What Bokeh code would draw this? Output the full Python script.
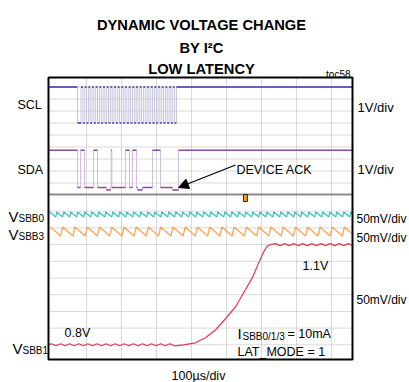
import numpy as np
from bokeh.plotting import figure
from bokeh.models import Range1d, Label, Arrow, NormalHead
from bokeh.embed import file_html
from bokeh.resources import INLINE

# ---------------- data (time in µs, 100 µs/div) ----------------
T_LEFT, T_RIGHT = -8.6, 860.0

# SCL (1 V/div)
scl_high_v = 3.0
scl_fall_start = 74.3
scl_rise_t = [84.5, 95.0, 105.5, 115.9, 126.4, 136.9, 147.4, 157.8, 168.3,
              178.8, 189.3, 199.8, 210.2, 220.7, 231.2, 241.7, 252.1, 262.6,
              273.1, 283.6, 294.1, 304.5, 315.0, 325.5, 336.0, 346.4, 356.9]
scl_high_us = 5.2

# SDA (1 V/div): edge times and level after each edge
sda_t = [T_LEFT, 74.3, 82.9, 94.3, 120.0, 131.4, 157.0, 169.0, 170.5, 172.5,
         211.4, 222.9, 231.4, 242.9, 245.7, 260.0, 288.6, 311.4, 345.7, 362.9, T_RIGHT]
sda_v = [3.1, 0.0, 3.1, 0.0, 3.1, 0.0, -0.2, 0.0, 3.1, 0.0,
         3.1, 0.0, 3.1, 0.0, -0.2, 0.0, 3.1, 0.0, -0.2, 3.1, 3.1]

# VSBB0 ripple (50 mV/div, AC)
vsbb0_peak_t = [-5, 15, 35, 55, 75, 95, 115, 135, 155, 175, 195, 215, 235, 255,
                275, 295, 315, 335, 355, 375, 395, 415, 435, 455, 475, 495, 515,
                535, 555, 575, 595, 615, 635, 655, 675, 695, 715, 735, 755, 775,
                795, 815, 835, 855, 875]
vsbb0_ripple_mv = 15.0
vsbb0_rise_us = 3.0

# VSBB3 ripple (50 mV/div, AC)
vsbb3_peak_t = [-3, 32, 67, 102, 137, 172, 207, 242, 277, 312, 347, 382, 417,
                452, 487, 522, 557, 592, 627, 662, 697, 732, 767, 802, 837, 872]
vsbb3_ripple_mv = 27.0
vsbb3_rise_us = 6.0

# VSBB1 (50 mV/div): 0.8 V -> 1.1 V
vsbb1_start_v = 0.8
vsbb1_end_v = 1.1
vsbb1_ramp_t = [377, 411, 440, 469, 497, 526, 549, 574, 591, 606, 617, 626]
vsbb1_ramp_v = [0.800, 0.806, 0.821, 0.845, 0.878, 0.914, 0.956, 1.001, 1.043,
                1.078, 1.096, 1.100]
vsbb1_low_peak_t = [0, 26, 52, 78, 104, 130, 156, 182, 208, 234, 260, 286, 312, 338]
vsbb1_high_peak_t = [640, 666, 692, 718, 744, 770, 796, 822, 848]
vsbb1_ripple_mv = 6.0
vsbb1_half_period_us = 13.0

trigger_t = 554.0

# ---------------- screen mapping (y range in pixel rows) ----------------
SCOPE_TOP, SCOPE_BOTTOM = 77.0, 359.0
SCL_ZERO, SDA_ZERO, PX_PER_V = 122.5, 187.0, 12.0
VSBB0_C, VSBB3_C, VSBB1_08 = 214.0, 231.0, 344.3
PX_PER_DIV_LOW = 16.7
W, H = 409, 382


def y_logic(zero, v):
    return [zero - x * PX_PER_V for x in v]


def y_ac(center, mv):
    return [center - m / 50.0 * PX_PER_DIV_LOW for m in mv]


def y_sbb1(v):
    return [VSBB1_08 - (x - 0.8) / 0.05 * PX_PER_DIV_LOW for x in v]


def tx(px):
    return (px - 51.0) * 100.0 / 35.0


def clip(xs, ys, a=T_LEFT, b=T_RIGHT):
    xs = np.asarray(xs, float); ys = np.asarray(ys, float)
    ox, oy = [], []
    for i in range(len(xs)):
        if a <= xs[i] <= b:
            if i > 0 and xs[i - 1] < a:
                f = (a - xs[i - 1]) / (xs[i] - xs[i - 1])
                ox.append(a); oy.append(ys[i - 1] + f * (ys[i] - ys[i - 1]))
            ox.append(xs[i]); oy.append(ys[i])
        elif xs[i] > b and i > 0 and xs[i - 1] <= b:
            f = (b - xs[i - 1]) / (xs[i] - xs[i - 1])
            ox.append(b); oy.append(ys[i - 1] + f * (ys[i] - ys[i - 1]))
    return ox, oy


p = figure(width=W, height=H, x_range=Range1d(tx(0), tx(W)),
           y_range=Range1d(H, 0), x_axis_type=None, y_axis_type=None,
           toolbar_location=None, output_backend="svg",
           min_border=0, outline_line_color=None,
           background_fill_color="white", border_fill_color="white")
p.grid.visible = False

# grid
GRID = "#b4b4b4"
vg = [100, 200, 300, 400, 500, 600, 700, 800]
p.segment(vg, [SCOPE_TOP] * len(vg), vg, [SCOPE_BOTTOM] * len(vg),
          line_color=GRID, line_dash="1 1", line_width=1)
hg = [86.5, 98.5, 110.5, 122.5, 134.5, 146.5, 158.5, 170.5, 182.5,
      210.7, 227.4, 244.1, 260.8, 277.5, 294.2, 310.9, 327.6, 344.3]
p.segment([T_LEFT] * len(hg), hg, [T_RIGHT] * len(hg), hg,
          line_color=GRID, line_dash="1 1", line_width=1)
p.segment([T_LEFT], [194], [T_RIGHT], [194], line_color="#8c8c8c", line_width=2)

# SCL
e_t = [T_LEFT, scl_fall_start]
e_v = [scl_high_v, 0.0]
for i, r in enumerate(scl_rise_t):
    e_t.append(r); e_v.append(scl_high_v)
    if i < len(scl_rise_t) - 1:
        e_t.append(r + scl_high_us); e_v.append(0.0)
e_t.append(T_RIGHT); e_v.append(scl_high_v)
ys = y_logic(SCL_ZERO, e_v)
p.step(e_t, ys, mode="after", line_color="#c6c6dc", line_width=1)
p.segment(e_t[:-1], ys[:-1], e_t[1:], ys[:-1], line_color="#3c3ca4", line_width=1.5)

# SDA
ys = y_logic(SDA_ZERO, sda_v)
p.step(sda_t, ys, mode="after", line_color="#d4bedf", line_width=1)
p.segment(sda_t[:-1], ys[:-1], sda_t[1:], ys[:-1], line_color="#8a4caa", line_width=1.5)


def sawtooth(peaks, amp, rise):
    xs, vs = [], []
    for k in range(len(peaks) - 1):
        xs += [peaks[k], peaks[k + 1] - rise]
        vs += [amp / 2, -amp / 2]
    xs.append(peaks[-1]); vs.append(amp / 2)
    return xs, vs


xs, vs = sawtooth(vsbb0_peak_t, vsbb0_ripple_mv, vsbb0_rise_us)
cx, cy = clip(xs, y_ac(VSBB0_C, vs))
p.line(cx, cy, line_color="#3cc4c4", line_width=1.2)
xs, vs = sawtooth(vsbb3_peak_t, vsbb3_ripple_mv, vsbb3_rise_us)
cx, cy = clip(xs, y_ac(VSBB3_C, vs))
p.line(cx, cy, line_color="#f8a454", line_width=1.2)

# VSBB1
a = vsbb1_ripple_mv / 2000.0
rx, rv = [T_LEFT], [vsbb1_start_v]
for t in vsbb1_low_peak_t:
    rx += [t, t + vsbb1_half_period_us]; rv += [vsbb1_start_v + a, vsbb1_start_v - a]
rx += vsbb1_ramp_t; rv += vsbb1_ramp_v
for t in vsbb1_high_peak_t:
    rx += [t, t + vsbb1_half_period_us]; rv += [vsbb1_end_v + a, vsbb1_end_v - a]
cx, cy = clip(rx, y_sbb1(rv))
p.line(cx, cy, line_color="#e2385c", line_width=1.2)

# scope frame
p.quad(left=[T_LEFT], right=[T_RIGHT], top=[SCOPE_TOP], bottom=[SCOPE_BOTTOM],
       fill_color=None, line_color="black", line_width=2)

# trigger marker
p.rect(x=[trigger_t], y=[197.5], width=4, height=7, width_units="screen",
       height_units="screen", fill_color="#f0a030", line_color="#3a2000", line_width=1)

# arrow
p.add_layout(Arrow(end=NormalHead(size=10, fill_color="black", line_color="black"),
                   x_start=tx(235), y_start=164.5, x_end=tx(178), y_end=187,
                   line_color="black", line_width=1.2))

FONT = "Liberation Sans"


def lab(px, py, text, size=13, align="left", bold=False):
    p.add_layout(Label(x=tx(px), y=py, text=text, text_font=FONT,
                       text_font_size=f"{size}px", text_align=align,
                       text_baseline="alphabetic", text_color="black",
                       text_font_style="bold" if bold else "normal"))


lab(201, 24, "DYNAMIC VOLTAGE CHANGE", 14.7, "center", True)
lab(201, 47, "BY I²C", 14.7, "center", True)
lab(201, 68, "LOW LATENCY", 14.7, "center", True)
lab(350, 74, "toc58", 10, "right")
lab(17, 104, "SCL", 12.5)
lab(17, 169, "SDA", 12.5)
lab(357, 107, "1V/div", 13)
lab(357, 169, "1V/div", 13)
lab(236, 169, "DEVICE ACK", 12.5)
lab(8, 216, "V", 15); lab(18, 218, "SBB0", 10)
lab(8, 234, "V", 15); lab(18, 236, "SBB3", 10)
lab(12, 348, "V", 15); lab(22, 350, "SBB1", 10)
lab(356, 218, "50mV/div", 12)
lab(356, 237, "50mV/div", 12)
lab(356, 299, "50mV/div", 12)
lab(302, 265, "1.1V", 12.5)
lab(64, 332, "0.8V", 12.5)
lab(237, 333, "I", 15); lab(242, 336, "SBB0/1/3", 10); lab(287, 333, "= 10mA", 12.5)
lab(237, 351, "LAT_MODE = 1", 12.5)
lab(198, 375, "100µs/div", 12.5, "center")

open("out.html", "w").write(file_html(p, INLINE))
